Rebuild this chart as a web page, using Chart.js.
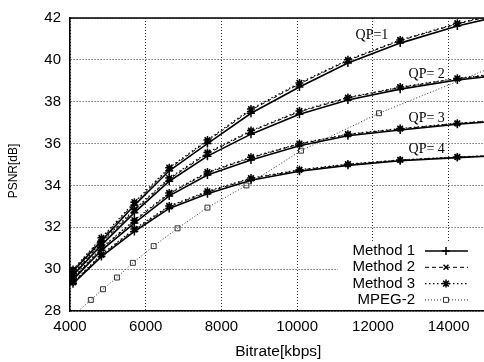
<!DOCTYPE html>
<html>
<head>
<meta charset="utf-8">
<script src="https://cdn.jsdelivr.net/npm/chart.js"></script>
<style>
  html, body { margin: 0; padding: 0; background: #fff; overflow: hidden; }
  canvas { display: block; }
</style>
</head>
<body>
<canvas id="psnrChart" width="492" height="362"></canvas>
<script>
// Chart data
const bitrate = [4080, 4830, 5700, 6620, 7630, 8780, 10060, 11340, 12720, 14230, 15500];

const method1 = [
  [29.9, 31.35, 33.05, 34.7, 36.0, 37.45, 38.7, 39.85, 40.8, 41.62, 42.15],
  [29.7, 31.15, 32.7, 34.2, 35.4, 36.45, 37.4, 38.08, 38.6, 39.04, 39.3],
  [29.5, 30.9, 32.2, 33.5, 34.5, 35.22, 35.9, 36.37, 36.65, 36.92, 37.1],
  [29.3, 30.6, 31.8, 32.9, 33.6, 34.25, 34.68, 34.96, 35.18, 35.33, 35.43],
];
const method2 = [
  [29.95, 31.45, 33.15, 34.8, 36.12, 37.6, 38.85, 39.97, 40.92, 41.72, 42.25],
  [29.75, 31.25, 32.8, 34.3, 35.52, 36.58, 37.52, 38.18, 38.68, 39.1, 39.36],
  [29.55, 30.98, 32.3, 33.6, 34.6, 35.32, 35.98, 36.43, 36.7, 36.96, 37.13],
  [29.35, 30.67, 31.88, 32.98, 33.68, 34.32, 34.73, 35.0, 35.21, 35.35, 35.45],
];
const method3 = [
  [29.98, 31.5, 33.2, 34.85, 36.17, 37.65, 38.9, 40.0, 40.95, 41.75, 42.28],
  [29.78, 31.3, 32.85, 34.35, 35.57, 36.62, 37.56, 38.2, 38.7, 39.12, 39.38],
  [29.58, 31.02, 32.34, 33.64, 34.64, 35.35, 36.0, 36.45, 36.72, 36.97, 37.14],
  [29.38, 30.7, 31.92, 33.02, 33.72, 34.35, 34.75, 35.02, 35.22, 35.36, 35.46],
];

const mpegBitrate = [4100, 4550, 4870, 5240, 5660, 6210, 6840, 7630, 8660, 10100, 12160, 15500];
const mpegPsnr = [27.8, 28.53, 29.04, 29.6, 30.3, 31.1, 31.95, 32.94, 34.0, 35.66, 37.45, 39.9];

const qpLabels = ['QP=1', 'QP= 2', 'QP= 3', 'QP= 4'];
const seriesNames = ['Method 1', 'Method 2', 'Method 3', 'MPEG-2'];
const xTicks = [4000, 6000, 8000, 10000, 12000, 14000];
const yTicks = [28, 30, 32, 34, 36, 38, 40, 42];

const SANS = "'Liberation Sans', Arial, sans-serif";
const SERIF = "'Liberation Serif', 'Times New Roman', serif";

const styles = [
  { dash: [], width: 1.6, point: 'cross', radius: 4 },
  { dash: [4, 3], width: 1, point: 'crossRot', radius: 3.5 },
  { dash: [1.5, 2.5], width: 1.2, point: 'star', radius: 4 },
  { dash: [1, 2], width: 1, point: 'rect', radius: 3.5 },
];

const toPoints = (xs, ys) => xs.map((x, i) => ({ x: x, y: ys[i] }));

const datasets = [];
[method1, method2, method3].forEach((method, m) => {
  method.forEach((curve, q) => {
    datasets.push({
      label: seriesNames[m],
      data: toPoints(bitrate, curve),
      inLegend: q === 0,
      styleIdx: m,
      borderColor: '#000',
      backgroundColor: '#000',
      borderWidth: styles[m].width,
      borderDash: styles[m].dash,
      pointStyle: styles[m].point,
      pointRadius: styles[m].radius,
      pointBorderWidth: 1.5,
      tension: 0,
    });
  });
});
datasets.push({
  label: seriesNames[3],
  data: toPoints(mpegBitrate, mpegPsnr),
  inLegend: true,
  styleIdx: 3,
  borderColor: '#333',
  backgroundColor: 'rgba(255,255,255,0)',
  borderWidth: styles[3].width,
  borderDash: styles[3].dash,
  pointStyle: styles[3].point,
  pointRadius: styles[3].radius,
  pointBorderWidth: 1,
  tension: 0,
});

// frame top line, QP labels, y title and the legend box
const decorations = {
  id: 'decorations',
  afterDatasetsDraw(chart) {
    const { ctx, chartArea: a, scales: { x, y } } = chart;
    ctx.save();

    // top border
    ctx.strokeStyle = '#000';
    ctx.lineWidth = 1.6;
    ctx.beginPath();
    ctx.moveTo(a.left, a.top);
    ctx.lineTo(a.right, a.top);
    ctx.stroke();

    // QP labels
    ctx.fillStyle = '#000';
    ctx.font = '14px ' + SERIF;
    ctx.textAlign = 'center';
    ctx.textBaseline = 'middle';
    const qpAt = [[11974, 41.15], [13421, 39.32], [13421, 37.21], [13421, 35.71]];
    qpLabels.forEach((t, i) => {
      ctx.fillText(t, x.getPixelForValue(qpAt[i][0]), y.getPixelForValue(qpAt[i][1]));
    });

    // y axis title
    ctx.save();
    ctx.translate(14, 171);
    ctx.rotate(-Math.PI / 2);
    ctx.font = '12px ' + SANS;
    ctx.fillText('PSNR[dB]', 0, 0);
    ctx.restore();

    // legend
    ctx.fillStyle = '#fff';
    ctx.fillRect(338, 242, a.right - 338, a.bottom - 243);
    ctx.font = '15px ' + SANS;
    ctx.textAlign = 'right';
    const legendSets = chart.data.datasets.filter(d => d.inLegend);
    legendSets.forEach((ds, i) => {
      const rowY = 251 + i * 16.3;
      ctx.fillStyle = '#000';
      ctx.fillText(ds.label, 415, rowY);
      ctx.strokeStyle = ds.borderColor;
      ctx.lineWidth = ds.borderWidth;
      ctx.setLineDash(ds.borderDash);
      ctx.beginPath();
      ctx.moveTo(425, rowY);
      ctx.lineTo(468, rowY);
      ctx.stroke();
      ctx.setLineDash([]);
      ctx.lineWidth = ds.pointBorderWidth;
      ctx.fillStyle = ds.styleIdx === 3 ? '#fff' : '#000';
      Chart.helpers.drawPoint(ctx, {
        pointStyle: ds.pointStyle,
        radius: ds.pointRadius,
        rotation: 0,
        borderWidth: ds.pointBorderWidth,
      }, 446, rowY);
    });

    ctx.restore();
  },
};

new Chart(document.getElementById('psnrChart'), {
  type: 'line',
  data: { datasets: datasets },
  options: {
    responsive: false,
    devicePixelRatio: 1,
    animation: false,
    layout: { padding: { top: 13, right: 4, left: 0, bottom: 0 } },
    plugins: {
      legend: { display: false },
      tooltip: { enabled: false },
    },
    scales: {
      x: {
        type: 'linear',
        min: 4000,
        max: 15000,
        afterBuildTicks: s => { s.ticks = xTicks.map(v => ({ value: v })); },
        afterFit: s => { s.height = 51; },
        grid: { color: '#333', lineWidth: 1, drawTicks: false },
        border: { display: true, color: '#000', width: 1.6, dash: [1, 2] },
        ticks: {
          color: '#000',
          padding: 7,
          font: { family: SANS, size: 15 },
          maxRotation: 0,
          callback: v => String(v),
        },
        title: {
          display: true,
          text: 'Bitrate[kbps]',
          color: '#000',
          font: { family: SANS, size: 15.5 },
          padding: { top: 0, bottom: 1 },
        },
      },
      y: {
        type: 'linear',
        min: 28,
        max: 42,
        afterBuildTicks: s => { s.ticks = yTicks.map(v => ({ value: v })); },
        afterFit: s => { s.width = 70; },
        grid: { color: '#333', lineWidth: 1, drawTicks: false },
        border: { display: true, color: '#000', width: 1.6, dash: [1, 2] },
        ticks: {
          color: '#000',
          padding: 9,
          font: { family: SANS, size: 15 },
          callback: v => String(v),
        },
      },
    },
  },
  plugins: [decorations],
});
</script>
</body>
</html>
